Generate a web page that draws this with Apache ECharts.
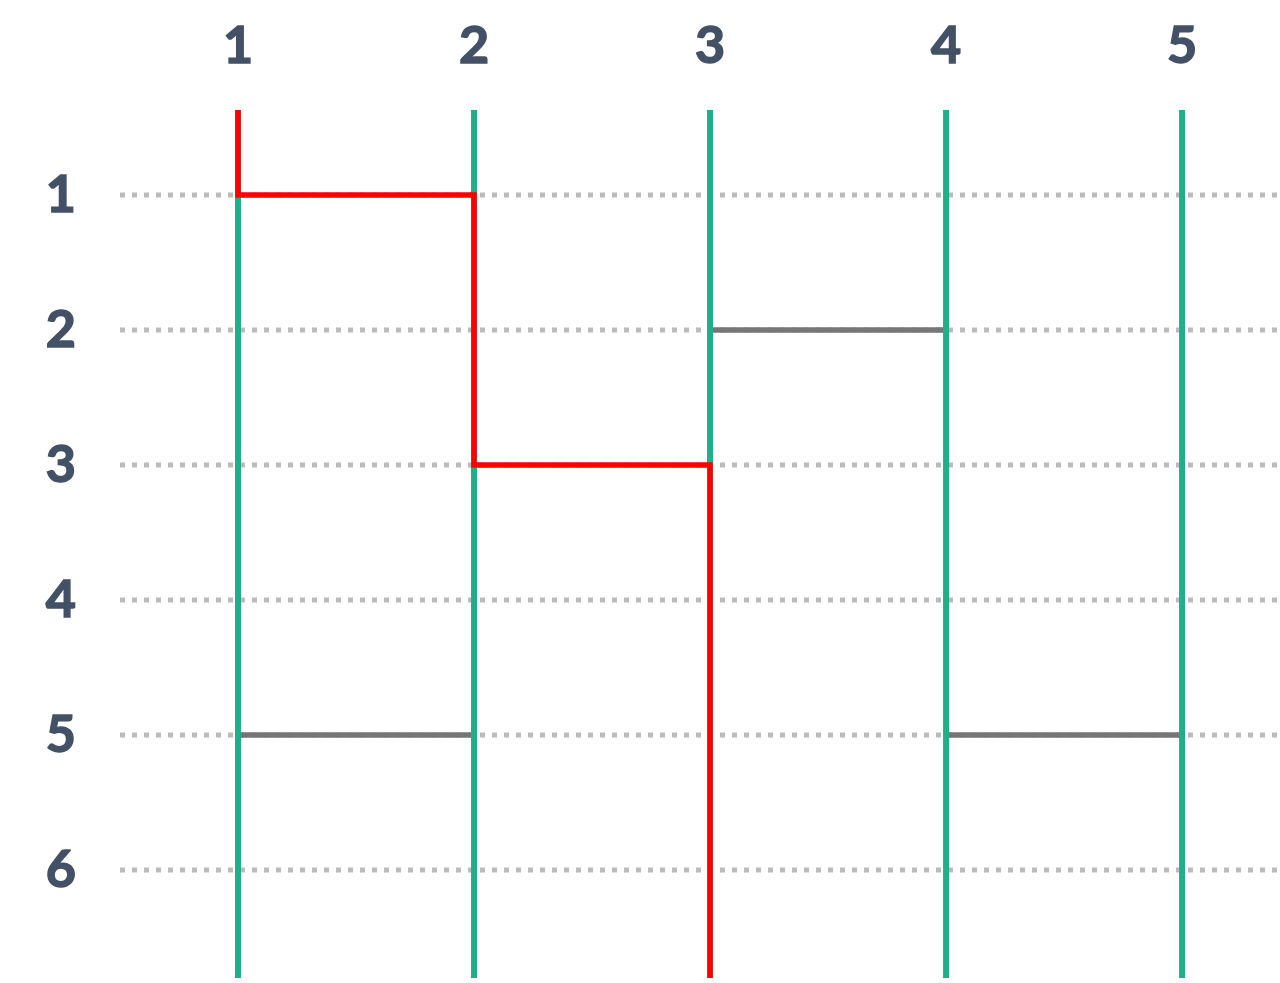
<!DOCTYPE html>
<html><head><meta charset="utf-8">
<script src="https://cdn.jsdelivr.net/npm/echarts@6/dist/echarts.min.js"></script>
<style>html,body{margin:0;padding:0;background:#fff}#c{width:1280px;height:983px}</style>
</head><body><div id="c"></div>
<script>
const columns = [1, 2, 3, 4, 5];
const rows = [1, 2, 3, 4, 5, 6];
const colLabels = ['1', '2', '3', '4', '5'];
const rowLabels = ['1', '2', '3', '4', '5', '6'];
// rungs: [row, leftColumn] connecting leftColumn and leftColumn+1
const grayRungs = [[2, 3], [5, 1], [5, 4]];
const yTop = 0.37, yBottom = 6.8;
const xMin = 0.5, xMax = 5.415;
// highlighted path (x = column, y = row)
const redPath = [[1, yTop], [1, 1], [2, 1], [2, 3], [3, 3], [3, yBottom]];

const series = [];
rows.forEach(r => {
  series.push({type: 'line', data: [[xMin, r], [xMax + 1, r]], symbol: 'none', silent: true, z: 1,
    lineStyle: {color: '#bbbbbb', width: 5, type: [5, 7], cap: 'butt'}});
});
grayRungs.forEach(([r, c]) => {
  series.push({type: 'line', data: [[c, r], [c + 1, r]], symbol: 'none', silent: true, z: 2,
    lineStyle: {color: '#767676', width: 5.5, cap: 'butt'}});
});
columns.forEach(c => {
  series.push({type: 'line', data: [[c, yTop], [c, yBottom]], symbol: 'none', silent: true, z: 3,
    lineStyle: {color: '#1fb08a', width: 6}});
});
series.push({type: 'line', data: redPath, symbol: 'none', silent: true, z: 4,
  lineStyle: {color: '#ff0000', width: 5.5, join: 'miter'}});

const labelStyle = {color: '#435166', fontSize: 52, fontWeight: 'bold', fontFamily: 'Lato',
  textBorderColor: '#435166', textBorderWidth: 1.5};
const chart = echarts.init(document.getElementById('c'), null, {renderer: 'canvas'});
chart.setOption({
  animation: false,
  grid: {left: 120, right: 0, top: 110, bottom: 5},
  xAxis: {type: 'value', position: 'top', min: xMin, max: xMax,
    axisLine: {show: false}, axisTick: {show: false}, splitLine: {show: false},
    axisLabel: Object.assign({customValues: columns, margin: 38,
      formatter: v => colLabels[columns.indexOf(v)] || ''}, labelStyle)},
  yAxis: {type: 'value', inverse: true, min: yTop, max: yBottom,
    axisLine: {show: false}, axisTick: {show: false}, splitLine: {show: false},
    axisLabel: Object.assign({customValues: rows, margin: 44,
      formatter: v => rowLabels[rows.indexOf(v)] || ''}, labelStyle)},
  series: series
});
</script></body></html>
